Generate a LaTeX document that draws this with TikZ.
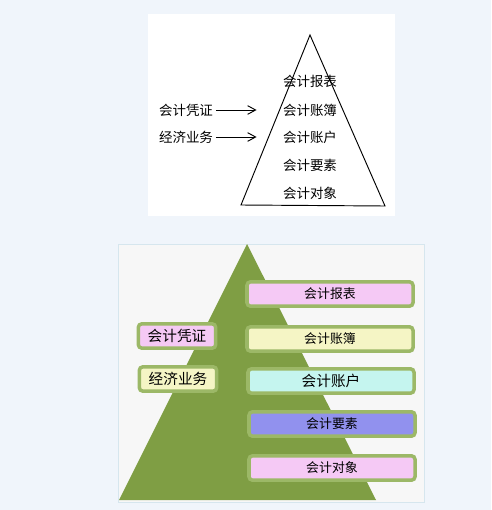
\documentclass[tikz,border=0pt]{standalone}
\usepackage{fontspec}
\newfontfamily\cjk{Noto Sans CJK SC}
\usetikzlibrary{arrows.meta}
\definecolor{cbg}{HTML}{F0F5FB}
\definecolor{cpanel}{HTML}{F7F7F7}
\definecolor{cframe}{HTML}{D6E6EE}
\definecolor{colive}{HTML}{7F9E44}
\definecolor{cedge}{HTML}{9CB867}
\definecolor{cpink}{HTML}{F5C9F5}
\definecolor{cyellow}{HTML}{F5F5C5}
\definecolor{ccyan}{HTML}{C5F5EF}
\definecolor{cviolet}{HTML}{9191EE}
\tikzset{
  every picture/.style={x=0.03cm, y=-0.03cm, line width=0.8pt},
  word/.style={font=\cjk\fontsize{11.5pt}{13pt}\selectfont, inner sep=0pt},
  tag/.style={draw=cedge, fill=#1, line width=3pt, rounded corners=3pt, minimum width=4.98cm, minimum height=0.73cm, inner sep=0pt, font=\cjk\fontsize{11pt}{12pt}\selectfont},
  tag/.default=cpink,
  big/.style={font=\cjk\fontsize{12.5pt}{14pt}\selectfont},
  side/.style={minimum width=2.32cm},
  arrow/.style={-{Straight Barb[length=2.4mm, width=2.6mm]}},
}

\begin{document}
\begin{tikzpicture}
  \fill[cbg] (0,0) rectangle (491,510);
  \useasboundingbox (0,0) rectangle (491,510);
  % upper panel: line drawing
  \fill[white] (148,14) rectangle (395,216);
  \draw (310,35) -- (385,206) -- (241,205) -- cycle;
  \node[word] (tb) at (310,81) {会计报表};
  \node[word] (tz) at (310,110) {会计账簿};
  \node[word] (th) at (310,137) {会计账户};
  \node[word] (ty) at (310,165) {会计要素};
  \node[word] (td) at (310,193) {会计对象};
  \node[word] (tp) at (186,110) {会计凭证};
  \node[word] (tw) at (186,137) {经济业务};
  \draw[arrow] ([xshift=2pt]tp.east) -- ([xshift=-0.78cm]tz.west);
  \draw[arrow] ([xshift=2pt]tw.east) -- ([xshift=-0.78cm]th.west);
  % lower panel: coloured version
  \filldraw[fill=cpanel, draw=cframe, line width=0.6pt] (118,244) rectangle (424,502);
  \fill[colive] (247,244) -- (376,500) -- (119,500) -- cycle;
  \node[tag=cpink] (bb) at (330,294) {会计报表};
  \node[tag=cyellow] (bz) at (330,339) {会计账簿};
  \node[tag=ccyan, big] (bh) at (331,381) {会计账户};
  \node[tag=cviolet] (by) at (332,424) {会计要素};
  \node[tag=cpink] (bd) at (332,468) {会计对象};
  \node[tag=cpink, side, big] (bp) at (177,336) {会计凭证};
  \node[tag=cyellow, side, big] (bw) at (178,379) {经济业务};
\end{tikzpicture}
\end{document}
